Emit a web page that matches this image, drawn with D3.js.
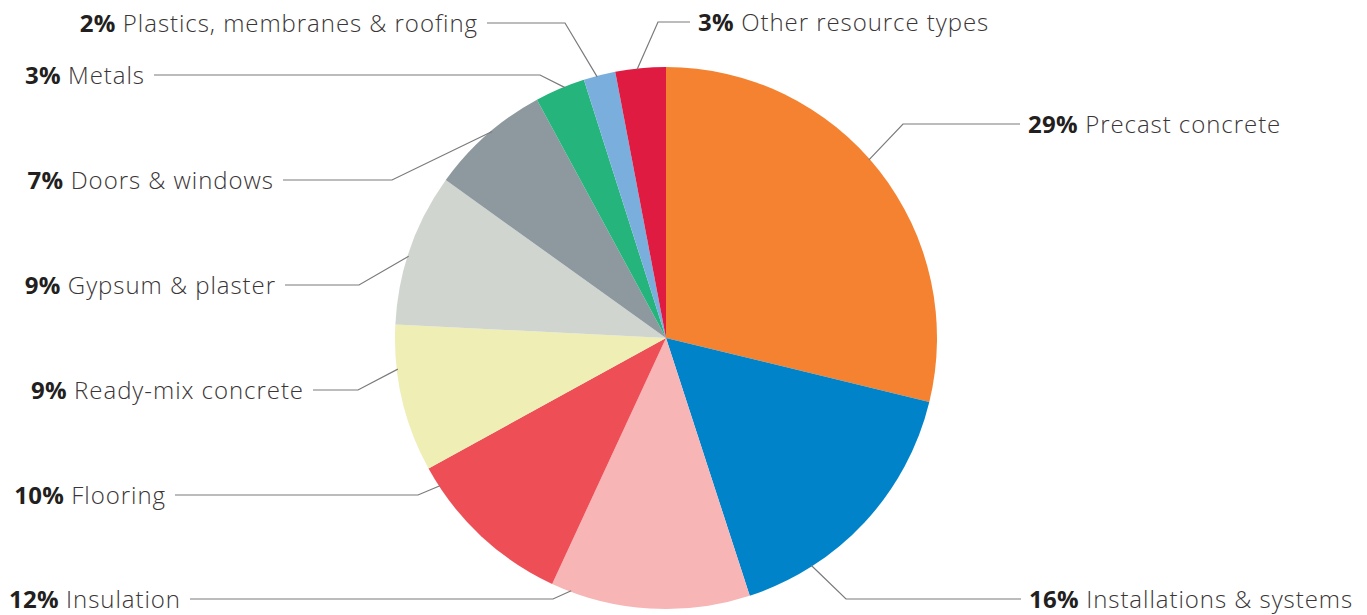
<!DOCTYPE html>
<html>
<head>
<meta charset="utf-8">
<script src="https://cdn.jsdelivr.net/npm/d3@7"></script>
<style>
  html, body { margin: 0; padding: 0; background: #fff; }
  svg { display: block; }
</style>
</head>
<body>
<svg id="chart" width="1367" height="615"></svg>
<script>
// ---- data ----
const categories = [
  "Precast concrete", "Installations & systems", "Insulation", "Flooring",
  "Ready-mix concrete", "Gypsum & plaster", "Doors & windows", "Metals",
  "Plastics, membranes & roofing", "Other resource types"
];
const shares = [28.8, 16.2, 11.9, 10.1, 8.8, 9.1, 7.2, 3.0, 1.9, 3.0];
const percentLabels = ["29%", "16%", "12%", "10%", "9%", "9%", "7%", "3%", "2%", "3%"];
const colors = ["#F48230", "#0083C9", "#F7B5B6", "#EE4F57", "#EEEEB5",
                "#D0D6CF", "#8E999F", "#25B47C", "#7AAFDD", "#E01B41"];

// ---- label layout (annotation placement) ----
const anchorFrac = [0.47, 0.75, 0.90, 0.88, 0.70, 0.45, 0.55, 0.60, 0.42, 0.43];
const labelY     = [124, 599, 599, 495, 390, 285, 180, 75, 23, 22];
const elbowX     = [903, 846, 553, 418, 358, 359, 392, 540, 565, 658];
const lineEndX   = [1020, 1021, 190, 175, 313, 285, 283, 154, 487, 690];

const svg = d3.select("#chart");
const cx = 666, cy = 338, R = 271;
const g = svg.append("g").attr("transform", `translate(${cx},${cy})`);

const data = categories.map((c, i) => ({ name: c, value: shares[i], pct: percentLabels[i], color: colors[i], i }));

const pie = d3.pie().value(d => d.value).sort(null);
const arcs = pie(data);
const arc = d3.arc().innerRadius(0).outerRadius(R);

g.selectAll("path.slice")
  .data(arcs)
  .join("path")
  .attr("class", "slice")
  .attr("d", arc)
  .attr("fill", d => d.data.color)
  .attr("stroke", "none");

// leader lines and labels
const lineG = svg.append("g");
arcs.forEach((a, i) => {
  const ang = a.startAngle + anchorFrac[i] * (a.endAngle - a.startAngle);
  const sx = cx + (R - 1) * Math.sin(ang);
  const sy = cy - (R - 1) * Math.cos(ang);
  const pts = [[sx, sy], [elbowX[i], labelY[i]], [lineEndX[i], labelY[i]]];
  lineG.append("path")
    .attr("d", d3.line()(pts))
    .attr("fill", "none")
    .attr("stroke", "#7a7a7a")
    .attr("stroke-width", 1.2);
  const right = lineEndX[i] > elbowX[i];
  const t = svg.append("text")
    .attr("x", right ? lineEndX[i] + 8 : lineEndX[i] - 9)
    .attr("y", labelY[i] + 9)
    .attr("text-anchor", right ? "start" : "end")
    .attr("font-family", "'Open Sans', 'Noto Sans', sans-serif")
    .attr("font-size", 24)
    .attr("letter-spacing", "0.95px")
    .attr("fill", "#231f20");
  t.append("tspan").attr("font-weight", 700).attr("letter-spacing", "0.3px").text(a.data.pct);
  t.append("tspan").attr("font-weight", 300).attr("fill", "#3a3536").text("\u00a0" + a.data.name);
});
</script>
</body>
</html>
